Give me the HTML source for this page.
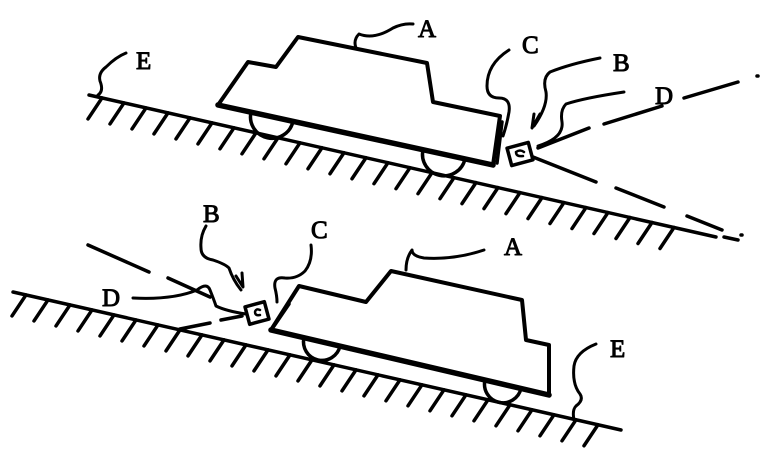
<!DOCTYPE html>
<html><head><meta charset="utf-8"><style>
html,body{margin:0;padding:0;background:#fff}
svg{display:block}
text{font-family:"Liberation Serif",serif;font-size:25px;fill:#000}
</style></head><body>
<svg id="s" width="772" height="472" viewBox="0 0 772 472" xmlns="http://www.w3.org/2000/svg" fill="none" stroke="#000" stroke-linecap="round" stroke-linejoin="round">
<!-- TOP SCENE -->
<line x1="89" y1="95" x2="716" y2="237" stroke-width="3.5"/>
<g id="h1" stroke-width="3.5"></g>
<line x1="724" y1="237" x2="738" y2="240" stroke-width="3.5"/>
<path d="M218,105 L248,62 L276,67 L298,37 L427,63 L433,102 L500,116 L493,165 Z" stroke-width="4"/>
<line x1="218" y1="105" x2="493" y2="165" stroke-width="5.5"/>
<line x1="502" y1="122" x2="497" y2="163" stroke-width="3.5"/>
<path d="M251,112.2 A21,21 0 0 0 293,121.4" stroke-width="3.5"/>
<path d="M423,149.7 A21,21 0 0 0 465,158.9" stroke-width="3.5"/>
<rect x="509" y="145" width="22" height="18" transform="rotate(-15 520 154)" stroke-width="3.5"/>
<path d="M516,152 q4,-3 8,0 M516,152 q0,5 7,4" stroke-width="2.5"/>
<g stroke-width="3.5">
<line x1="538" y1="148" x2="589" y2="128"/><line x1="604" y1="124" x2="662" y2="106"/><line x1="684" y1="98" x2="738" y2="82"/><line x1="757" y1="76" x2="758" y2="76"/>
<line x1="533" y1="157" x2="596" y2="182"/><line x1="616" y1="188" x2="664" y2="207"/><line x1="687" y1="216" x2="722" y2="230"/><line x1="741" y1="235" x2="742" y2="235"/>
</g>
<g stroke-width="3">
<path d="M356,48 q-3,-8 3,-14 q15,6 34,-6 q10,-5 20,-4"/>
<path d="M98,95 q6,-4 2,-14 q-2,-8 6,-14 q10,-10 20,-14"/>
<path d="M509,50 q-22,14 -22,36 q0,12 12,12 q12,0 10,14 q-2,12 -6,24"/>
<path d="M600,58 q-30,6 -50,14 q-8,6 -4,20 q2,14 -12,34"/>
<path d="M540,114 l-8,14 l2,-14"/>
<path d="M624,92 q-40,6 -58,12 q-6,6 -4,18 q2,16 -24,24"/>
</g>
<text x="418" y="37">A</text>
<text x="136" y="69">E</text>
<text x="522" y="53">C</text>
<text x="613" y="71">B</text>
<text x="655" y="104">D</text>
<!-- BOTTOM SCENE -->
<line x1="13" y1="292" x2="621" y2="430" stroke-width="3.5"/>
<g id="h2" stroke-width="3.5"></g>
<path d="M271,330 L299,286 L366,302 L391,271 L522,300 L526,340 L549,345 L549,395 Z" stroke-width="4"/>
<line x1="271" y1="330" x2="549" y2="395" stroke-width="5.5"/>
<line x1="289" y1="304" x2="274" y2="326" stroke-width="3.5"/>
<path d="M304,337.7 A18,18 0 0 0 340,346.1" stroke-width="3.5"/>
<path d="M485,380.1 A18,18 0 0 0 521,388.5" stroke-width="3.5"/>
<rect x="247" y="304" width="20" height="18" transform="rotate(-15 257 313)" stroke-width="3.5"/>
<path d="M260,310 q-4,-2 -5,2 q0,4 5,3" stroke-width="2.5"/>
<g stroke-width="3.5">
<line x1="88" y1="245" x2="149" y2="272"/><line x1="168" y1="278" x2="210" y2="297"/>
<line x1="221" y1="320" x2="242" y2="316"/><line x1="210" y1="323" x2="180" y2="329"/>
</g>
<g stroke-width="3">
<path d="M133,298 q40,2 64,-8 q10,-8 13,0 q4,10 6,16 q10,5 30,8"/>
<path d="M206,226 q-6,10 -5,22 q0,10 12,12 q12,4 16,8 q4,12 12,22"/>
<path d="M236,276 l7,11 l-1,-14"/>
<path d="M311,245 q2,16 -6,26 q-8,8 -20,7 q-12,-2 -10,10 q2,8 2,14"/>
<path d="M484,250 q-30,10 -60,8 q-12,-2 -12,-8 q-6,8 -6,20"/>
<path d="M574,420 q-2,-10 2,-14 q8,-6 4,-12 q-8,-10 -6,-28 q2,-14 22,-22"/>
</g>
<text x="203" y="222">B</text>
<text x="311" y="238">C</text>
<text x="504" y="255">A</text>
<text x="102" y="306">D</text>
<text x="610" y="357">E</text>
</svg>
<script>
function hatch(id,x0,y0,x1,y1,xs,xe){var g=document.getElementById(id),m=(y1-y0)/(x1-x0),s='';
for(var x=xs;x<=xe;x+=22){var y=y0+(x-x0)*m;s+='<line x1="'+x+'" y1="'+y+'" x2="'+(x-14)+'" y2="'+(y+21)+'"/>';}
g.innerHTML=s;}
hatch('h1',89,95,716,237,102,690);
hatch('h2',13,292,621,430,26,598);
</script>
</body></html>
